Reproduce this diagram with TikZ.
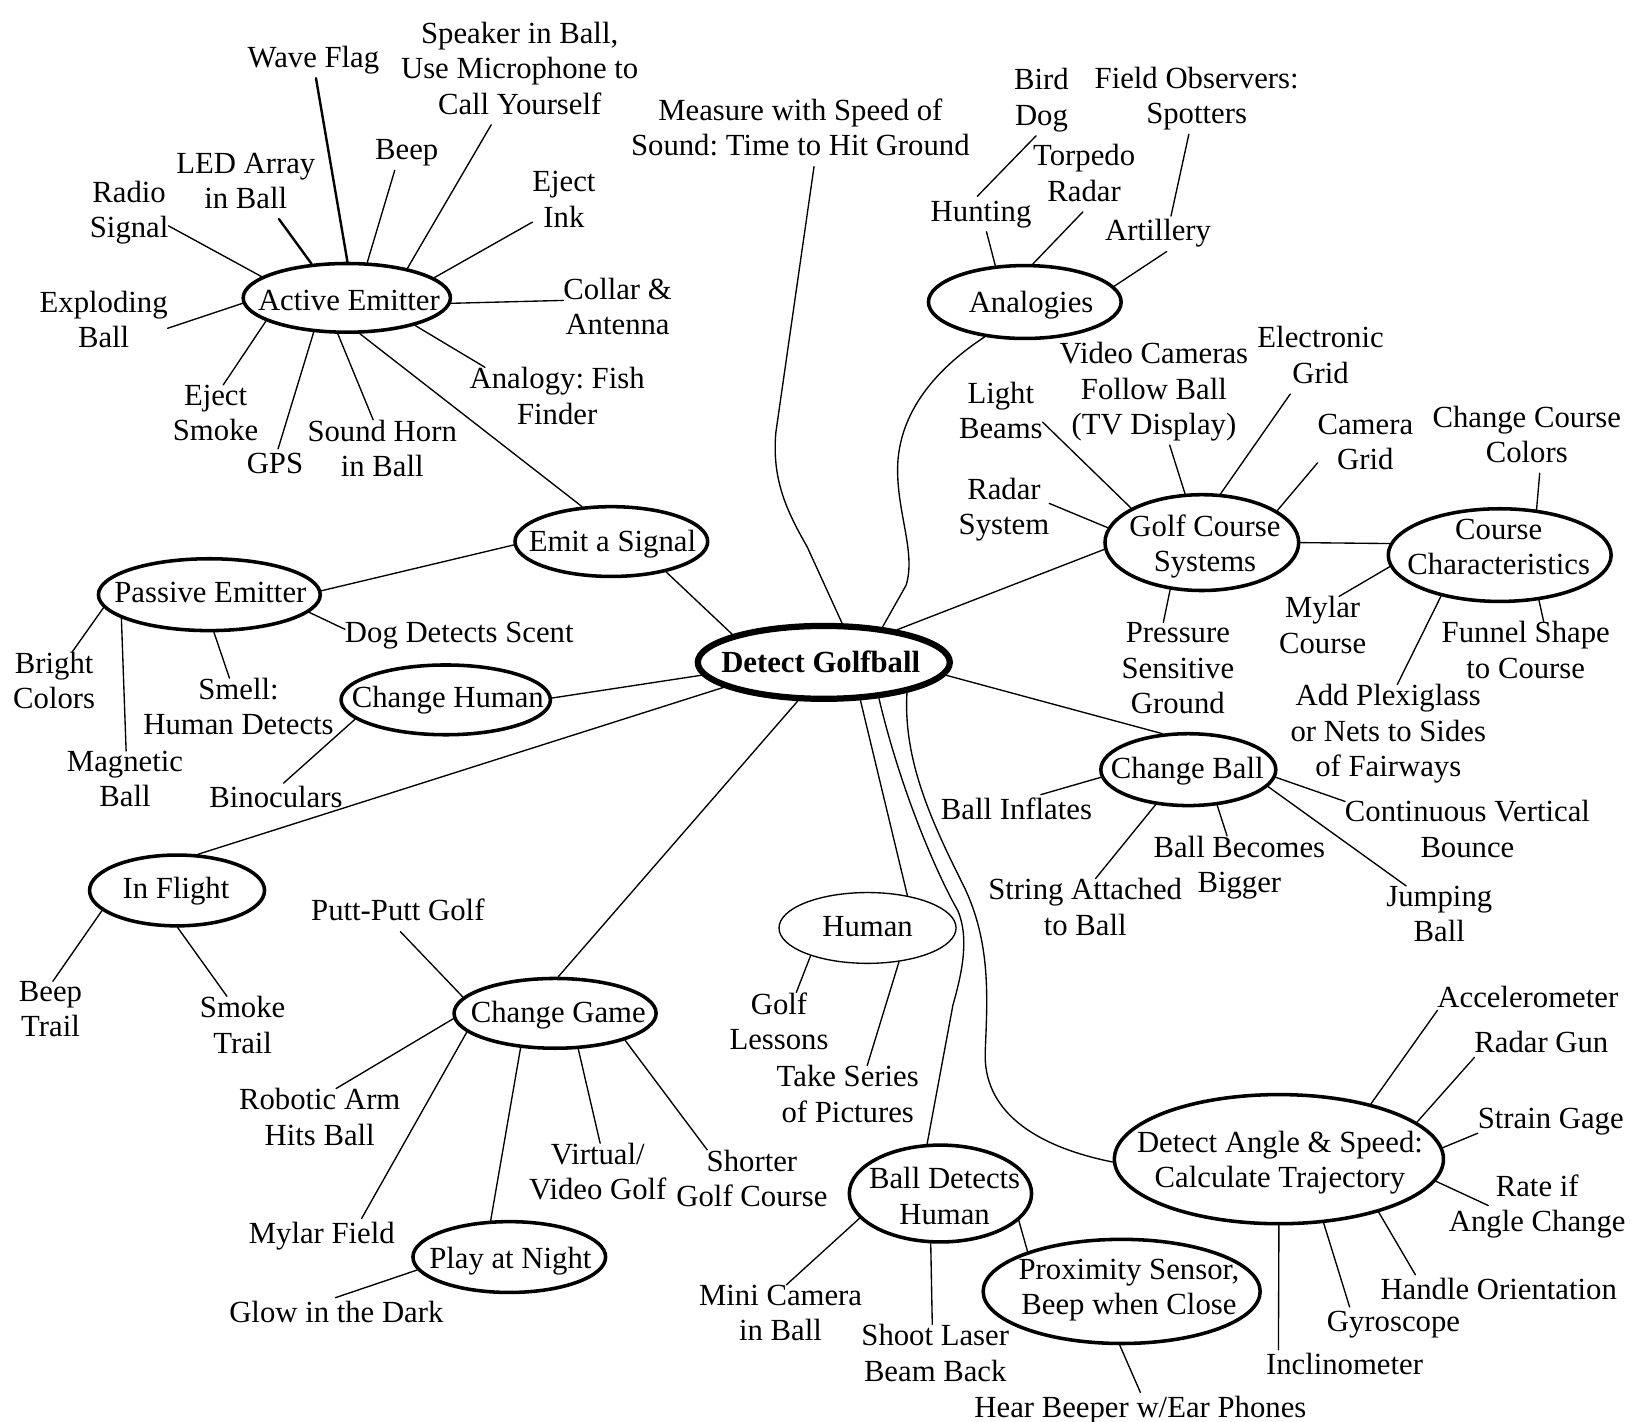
\documentclass[tikz,border=0pt]{standalone}
\usepackage{fontspec}
\setmainfont{Liberation Serif}
\usetikzlibrary{shapes.geometric,calc}
\frenchspacing
\begin{document}
\begin{tikzpicture}[x=1pt,y=-1pt,
  bub/.style={ellipse, draw, line width=3.4pt, fill=white, inner sep=0pt},
  txt/.style={inner sep=0pt, outer sep=0pt, align=center,
    font=\fontsize{29.5}{34}\selectfont,
    execute at begin node=\strut, execute at end node=\strut},
  con/.style={line width=1.3pt, line cap=round, line join=round},
  thk/.style={line width=2.3pt, line cap=round}]
\path[use as bounding box, fill=white] (0,0) rectangle (1568,1365);

% ---------- ellipses ----------
\node[bub, line width=6pt, minimum width=242, minimum height=70] (dg) at (791,636) {};
\node[bub, minimum width=199, minimum height=66] (ae) at (333,286) {};
\node[bub, minimum width=185, minimum height=67] (es) at (587,520) {};
\node[bub, minimum width=213, minimum height=69] (pe) at (201,571) {};
\node[bub, minimum width=201, minimum height=67] (ch) at (428,672) {};
\node[bub, minimum width=168, minimum height=68] (inf) at (170,855) {};
\node[bub, minimum width=194, minimum height=67] (cg) at (533,973) {};
\node[bub, minimum width=185, minimum height=68] (pn) at (489,1207) {};
\node[bub, line width=1.3pt, minimum width=170, minimum height=68] (hu) at (833,891) {};
\node[bub, minimum width=175, minimum height=93] (bdh) at (903,1146) {};
\node[bub, minimum width=266, minimum height=100] (ps) at (1077,1240) {};
\node[bub, minimum width=316, minimum height=124] (da) at (1228,1113) {};
\node[bub, minimum width=185, minimum height=70] (an) at (984,290) {};
\node[bub, minimum width=186, minimum height=92] (gcs) at (1154,521) {};
\node[bub, minimum width=214, minimum height=89] (cc) at (1440,533) {};
\node[bub, minimum width=168, minimum height=69] (cb) at (1141,739) {};

% ---------- ellipse labels ----------
\node[txt, font=\fontsize{29.5}{34}\selectfont\bfseries] (dg-t) at (788,639) {Detect Golfball};
\node[txt] (ae-t) at (335,291) {Active Emitter};
\node[txt] (es-t) at (588,523) {Emit a Signal};
\node[txt] (pe-t) at (202,572) {Passive Emitter};
\node[txt] (ch-t) at (430,673) {Change Human};
\node[txt] (inf-t) at (169,856) {In Flight};
\node[txt] (cg-t) at (536,975) {Change Game};
\node[txt] (pn-t) at (490,1211) {Play at Night};
\node[txt] (hu-t) at (833,892) {Human};
\node[txt] (bdh-t) at (907,1153.5) {Ball Detects\\Human};
\node[txt] (ps-t) at (1084,1240.5) {Proximity Sensor,\\Beep when Close};
\node[txt] (da-t) at (1229,1118) {Detect Angle \& Speed:\\Calculate Trajectory};
\node[txt] (an-t) at (990,293) {Analogies};
\node[txt] (gcs-t) at (1157,526.5) {Golf Course\\Systems};
\node[txt] (cc-t) at (1439,530) {Course\\Characteristics};
\node[txt] (cb-t) at (1140,741) {Change Ball};

% ---------- leaf texts ----------
\node[txt] (wf) at (301,58) {Wave Flag};
\node[txt] (spk) at (499,70.5) {Speaker in Ball,\\Use Microphone to\\Call Yourself};
\node[txt] (beep) at (390.5,146.5) {Beep};
\node[txt] (led) at (236,178.5) {LED Array\\in Ball};
\node[txt] (radio) at (124,206) {Radio\\Signal};
\node[txt] (expl) at (99.5,312) {Exploding\\Ball};
\node[txt] (ejsm) at (207,401.5) {Eject\\Smoke};
\node[txt] (gps) at (264,448) {GPS};
\node[txt] (horn) at (367,435.5) {Sound Horn\\in Ball};
\node[txt] (ejink) at (541.5,196.5) {Eject\\Ink};
\node[txt] (collar) at (593,299.5) {Collar \&\\Antenna};
\node[txt] (fish) at (535,385) {Analogy: Fish\\Finder};
\node[txt] (measure) at (768.5,127.5) {Measure with Speed of\\Sound: Time to Hit Ground};
\node[txt] (bird) at (1000,98) {Bird\\Dog};
\node[txt] (field) at (1149,96.5) {Field Observers:\\Spotters};
\node[txt] (torpedo) at (1041,171) {Torpedo\\Radar};
\node[txt] (hunting) at (942,205.5) {Hunting};
\node[txt] (artillery) at (1112,224.5) {Artillery};
\node[txt] (light) at (961,399) {Light\\Beams};
\node[txt] (video) at (1108,378) {Video Cameras\\Follow Ball\\(TV Display)};
\node[txt] (elec) at (1268,346) {Electronic\\Grid};
\node[txt] (camera) at (1311,429.5) {Camera\\Grid};
\node[txt] (ccolors) at (1466,422) {Change Course\\Colors};
\node[txt] (radar) at (964,491) {Radar\\System};
\node[txt] (pressure) at (1131,646.5) {Pressure\\Sensitive\\Ground};
\node[txt] (mylarc) at (1270,605) {Mylar\\Course};
\node[txt] (funnel) at (1465,629) {Funnel Shape\\to Course};
\node[txt] (plexi) at (1333,706.5) {Add Plexiglass\\or Nets to Sides\\of Fairways};
\node[txt] (inflates) at (976,780) {Ball Inflates};
\node[txt] (bigger) at (1190,835) {Ball Becomes\\Bigger};
\node[txt] (string) at (1042,876) {String Attached\\to Ball};
\node[txt] (bounce) at (1409,801) {Continuous Vertical\\Bounce};
\node[txt] (jumping) at (1382,882.5) {Jumping\\Ball};
\node[txt] (bright) at (52,658.5) {Bright\\Colors};
\node[txt] (magnetic) at (120,753) {Magnetic\\Ball};
\node[txt] (smell) at (229,683.5) {Smell:\\Human Detects};
\node[txt] (dog) at (441,610) {Dog Detects Scent};
\node[txt] (binoc) at (265,769) {Binoculars};
\node[txt] (beept) at (48.5,974) {Beep\\Trail};
\node[txt] (smoket) at (233,989) {Smoke\\Trail};
\node[txt] (putt) at (382,877.5) {Putt-Putt Golf};
\node[txt] (robotic) at (307,1077.5) {Robotic Arm\\Hits Ball};
\node[txt] (mylarf) at (309,1187) {Mylar Field};
\node[txt] (glow) at (323,1263) {Glow in the Dark};
\node[txt] (virtual) at (574,1130) {Virtual/\\Video Golf};
\node[txt] (shorter) at (722,1136.5) {Shorter\\Golf Course};
\node[txt] (lessons) at (748,985.5) {Golf\\Lessons};
\node[txt] (pictures) at (814,1055.5) {Take Series\\of Pictures};
\node[txt] (minicam) at (749.5,1265.5) {Mini Camera\\in Ball};
\node[txt] (laser) at (898,1304) {Shoot Laser\\Beam Back};
\node[txt] (hear) at (1095,1354) {Hear Beeper w/Ear Phones};
\node[txt] (accel) at (1467,961) {Accelerometer};
\node[txt] (radargun) at (1480,1004) {Radar Gun};
\node[txt] (strain) at (1489,1077) {Strain Gage};
\node[txt] (rate) at (1476,1160.5) {Rate if\\Angle Change};
\node[txt] (handle) at (1439,1241) {Handle Orientation};
\node[txt] (gyro) at (1338,1272) {Gyroscope};
\node[txt] (incl) at (1291,1313) {Inclinometer};

% ---------- connectors: Active Emitter ----------
\draw[thk] (ae.89) -- (wf.-82.4);
\draw[con] (ae.26) -- (spk.-119.6);
\draw[con] (ae.60) -- (beep.-124);
\draw[thk] (ae.136) -- (led.-45);
\draw[con] (ae.166) -- (radio.-16);
\draw[con] (ae.183.5) -- (expl.-3);
\draw[con] (ae.196) -- (ejsm.77);
\draw[con] (ae.226) -- (gps.80.5);
\draw[con] (ae.256) -- (horn.105.6);
\draw[con] (ae.13) -- (ejink.-151.3);
\draw[con] (ae.-3) -- (collar.168.6);
\draw[con] (ae.-22) -- (fish.155);
\draw[con] (ae.-70) -- (es.130);

% ---------- Emit a Signal / Passive Emitter ----------
\draw[con] (es.182) -- (pe.2);
\draw[con] (es.-29) -- (dg.163.7);
\draw[con] (pe.187.5) -- (bright.62.4);
\draw[con] (pe.195.5) -- (magnetic.88);
\draw[con] (pe.-83) -- (smell.105.7);
\draw[con] (pe.-10) -- (dog.177.6);

% ---------- Change Human ----------
\draw[con] (ch.1) -- (dg.186.6);
\draw[con] (ch.192) -- (binoc.67.6);

% ---------- Detect Golfball branches ----------
\draw[con] (dg.194.6) -- (inf.60);
\draw[con] (dg.236) -- (cg.85);
\draw[con] (dg.-46.5) -- (hu.39);
\draw[con] (dg.24.9) -- (gcs.184);
\draw[con] (dg.-6) -- (cb.126);
\draw[con] (measure.-68) -- (745,415) .. controls (741,460) and (755,490) .. (775,525) -- (dg.65.2);
\draw[con] (an.221.8) .. controls (905,350) and (865,390) .. (862,445)
  .. controls (860,490) and (880,530) .. (870,562) -- (dg.31.9);
\draw[con] (dg.-33) .. controls (865,760) and (900,840) .. (920,875)
  .. controls (930,900) and (925,930) .. (915,965) -- (bdh.105.8);
\draw[con] (dg.-20) .. controls (867,730) and (895,790) .. (925,850)
  .. controls (952,905) and (948,960) .. (946,1010)
  .. controls (944,1065) and (990,1100) .. (da.181);

% ---------- In Flight ----------
\draw[con] (inf.195) -- (beept.86);
\draw[con] (inf.-89) -- (smoket.115.8);

% ---------- Change Game ----------
\draw[con] (cg.170) -- (putt.-82.6);
\draw[con] (cg.183.6) -- (robotic.64.4);
\draw[con] (cg.192) -- (mylarf.24.7);
\draw[con] (cg.225.6) -- (pn.117);
\draw[con] (cg.-57) -- (virtual.86.5);
\draw[con] (cg.-21) -- (shorter.143.7);
\draw[con] (pn.188) -- (glow.93);

% ---------- Human ----------
\draw[con] (hu.206) -- (lessons.63.8);
\draw[con] (hu.-47.8) -- (pictures.60.8);

% ---------- Ball Detects Human ----------
\draw[con] (bdh.197.7) -- (minicam.80.2);
\draw[con] (bdh.259) -- (laser.95.3);
\draw[con] (bdh.-19.3) -- (ps.157.8);
\draw[con] (ps.268.7) -- (hear.90);

% ---------- Detect Angle & Speed ----------
\draw[con] (da.31) -- (accel.186.1);
\draw[con] (da.15.5) -- (radargun.190);
\draw[con] (da.4) -- (strain.189.9);
\draw[con] (da.-8.5) -- ($(rate.center)+(-47,-3)$);
\draw[con] (da.-28.7) -- (handle.168.8);
\draw[con] (da.-55.6) -- (gyro.158.5);
\draw[con] (da.270) -- (incl.165.1);

% ---------- Analogies ----------
\draw[con] (an.129) -- (hunting.-73.5);
\draw[con] (an.78.7) -- (torpedo.-92);
\draw[con] (an.10) -- (artillery.-64.8);
\draw[con] (bird.-99) -- (hunting.102.5);
\draw[con] (field.-103.4) -- (artillery.54.9);

% ---------- Golf Course Systems ----------
\draw[con] (gcs.171) -- (radar.10);
\draw[con] (gcs.154.5) -- (light.-9);
\draw[con] (gcs.109.5) -- (video.-73.7);
\draw[con] (gcs.69.4) -- (elec.-132);
\draw[con] (gcs.23.4) -- (camera.-162);
\draw[con] (gcs.236.4) -- (pressure.106);
\draw[con] (gcs.0) -- (cc.174);

% ---------- Course Characteristics ----------
\draw[con] (cc.51) -- (ccolors.-69);
\draw[con] (cc.186.6) -- (mylarc.64);
\draw[con] (cc.215.4) -- (plexi.80);
\draw[con] (cc.-49.3) -- (funnel.62);

% ---------- Change Ball ----------
\draw[con] (cb.185.5) -- (inflates.36.5);
\draw[con] (cb.227) -- (string.73.9);
\draw[con] (cb.-51.6) -- (bigger.110.4);
\draw[con] (cb.-5.5) -- (bounce.165.4);
\draw[con] (cb.-12.4) -- (jumping.135.4);
\end{tikzpicture}
\end{document}
